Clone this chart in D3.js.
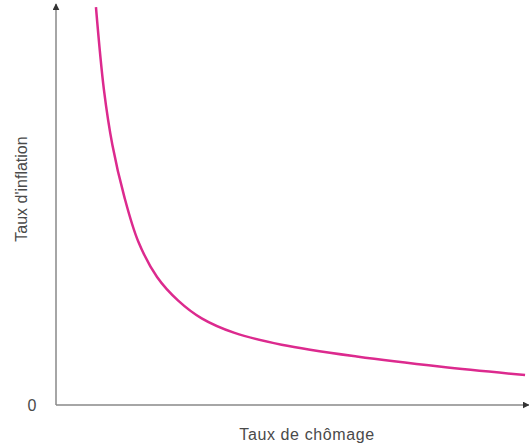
<!DOCTYPE html>
<html lang="fr">
<head>
<meta charset="utf-8">
<title>Courbe de Phillips</title>
<script src="https://d3js.org/d3.v7.min.js"></script>
<style>
  body { margin: 0; background: #fff; }
  svg { display: block; }
  .axis_label { font-family: "Liberation Sans", Arial, sans-serif; font-size: 16px; fill: #4a4a4a; }
</style>
</head>
<body>
<script>
// chart size
const w = 529;
const h = 445;

// curve (arbitrary units, 0-100)
const chomage = [8.5, 10.2, 12.0, 14.5, 17.5, 21.5, 26.0, 31.0, 38.0, 48.0, 64.0, 82.0, 99.8];
const inflation = [101, 80, 66, 53, 41.5, 32.5, 26.5, 22, 18.3, 15.3, 12.3, 9.7, 7.6];
const zeroLabel = "0";
const xTitle = "Taux de chômage";
const yTitle = "Taux d'inflation";

const data = chomage.map((c, i) => ({ x: c, y: inflation[i] }));

// scales
const xScale = d3.scaleLinear().domain([0, 100]).range([56, 526]);
const yScale = d3.scaleLinear().domain([0, 100]).range([405, 11]);

const svg = d3.select("body").append("svg")
  .attr("width", w)
  .attr("height", h);

// arrow heads
svg.append("defs").append("marker")
  .attr("id", "arrow")
  .attr("viewBox", "0 0 10 10")
  .attr("refX", 9).attr("refY", 5)
  .attr("markerWidth", 7).attr("markerHeight", 7)
  .attr("markerUnits", "userSpaceOnUse")
  .attr("orient", "auto")
  .append("path")
  .attr("d", "M0,0 L10,5 L0,10 Z")
  .attr("fill", "#333");

// axes (no ticks, just arrows)
svg.append("line")
  .attr("x1", xScale(0)).attr("y1", yScale(0))
  .attr("x2", xScale(0)).attr("y2", 4)
  .attr("stroke", "#888").attr("stroke-width", 1.5)
  .attr("marker-end", "url(#arrow)");

svg.append("line")
  .attr("x1", xScale(0)).attr("y1", yScale(0))
  .attr("x2", 529).attr("y2", yScale(0))
  .attr("stroke", "#888").attr("stroke-width", 1.5)
  .attr("marker-end", "url(#arrow)");

// labels
svg.append("text")
  .attr("class", "axis_label")
  .attr("x", 32).attr("y", yScale(0) + 6)
  .attr("text-anchor", "middle")
  .text(zeroLabel);

svg.append("text")
  .attr("class", "axis_label")
  .attr("x", 307).attr("y", 440)
  .attr("text-anchor", "middle")
  .attr("letter-spacing", 0.6)
  .text(xTitle);

svg.append("text")
  .attr("class", "axis_label")
  .attr("transform", "translate(27,189) rotate(-90)")
  .attr("text-anchor", "middle")
  .text(yTitle);

// the curve
const line = d3.line()
  .x(d => xScale(d.x))
  .y(d => yScale(d.y))
  .curve(d3.curveCatmullRom.alpha(0.5));

svg.append("path")
  .datum(data)
  .attr("d", line)
  .attr("fill", "none")
  .attr("stroke", "#dc2a8e")
  .attr("stroke-width", 2.5);
</script>
</body>
</html>
